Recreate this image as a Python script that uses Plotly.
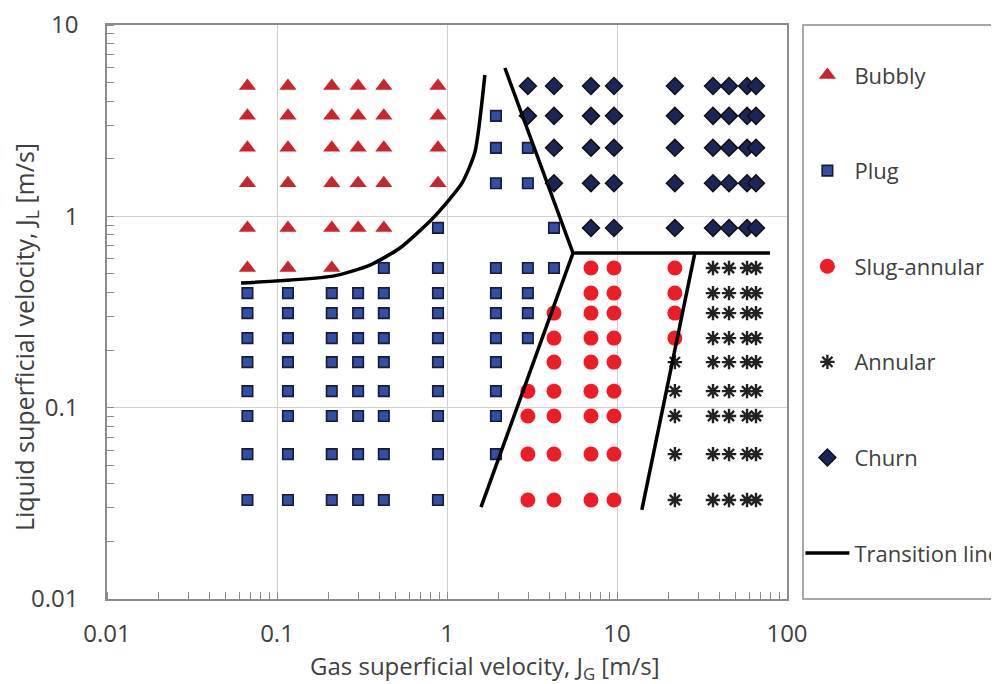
import plotly.graph_objects as go

# ---------------- data ----------------
bubbly_x = [0.067]*6 + [0.116]*6 + [0.21]*6 + [0.30]*5 + [0.425]*5 + [0.885]*4
bubbly_y = ([4.8, 3.35, 2.28, 1.49, 0.87, 0.537]*3
            + [4.8, 3.35, 2.28, 1.49, 0.87]*2
            + [4.8, 3.35, 2.28, 1.49])

plug_x = ([0.067]*8 + [0.116]*8 + [0.21]*8 + [0.30]*8 + [0.425]*9 + [0.885]*10
          + [1.94]*11 + [2.99]*6 + [4.26]*2)
plug_y = ([0.397, 0.312, 0.231, 0.173, 0.122, 0.0904, 0.0572, 0.0329]*4
          + [0.537, 0.397, 0.312, 0.231, 0.173, 0.122, 0.0904, 0.0572, 0.0329]
          + [0.87, 0.537, 0.397, 0.312, 0.231, 0.173, 0.122, 0.0904, 0.0572, 0.0329]
          + [3.35, 2.28, 1.49, 0.537, 0.397, 0.312, 0.231, 0.173, 0.122, 0.0904, 0.0572]
          + [2.28, 1.49, 0.537, 0.397, 0.312, 0.231]
          + [0.87, 0.537])

slug_x = [2.99]*4 + [4.26]*7 + [7.03]*9 + [9.6]*9 + [21.9]*4
slug_y = ([0.122, 0.0904, 0.0572, 0.0329]
          + [0.312, 0.231, 0.173, 0.122, 0.0904, 0.0572, 0.0329]
          + [0.537, 0.397, 0.312, 0.231, 0.173, 0.122, 0.0904, 0.0572, 0.0329]*2
          + [0.537, 0.397, 0.312, 0.231])

annular_x = [21.9]*5 + [36.7]*9 + [45.6]*9 + [58.2]*9 + [65.7]*9
annular_y = ([0.173, 0.122, 0.0904, 0.0572, 0.0329]
             + [0.537, 0.397, 0.312, 0.231, 0.173, 0.122, 0.0904, 0.0572, 0.0329]*4)

churn_x = [2.99]*2 + [4.26]*4 + [7.03]*5 + [9.6]*5 + [21.9]*5 + [36.7]*5 + [45.6]*5 + [58.2]*5 + [65.7]*5
churn_y = [4.8, 3.35] + [4.8, 3.35, 2.28, 1.49] + [4.8, 3.35, 2.28, 1.49, 0.87]*7

# transition lines
trans_curve_x = [0.0614, 0.213, 0.352, 0.529, 0.828, 1.225, 1.46, 1.67]
trans_curve_y = [0.448, 0.487, 0.556, 0.683, 0.98, 1.49, 2.17, 5.48]
trans_churn_x = [2.19, 5.51, 79.4]
trans_churn_y = [5.96, 0.643, 0.643]
trans_slug_x = [5.51, 1.585]
trans_slug_y = [0.643, 0.0302]
trans_ann_x = [28.7, 14.0]
trans_ann_y = [0.643, 0.0292]

x_tickvals = [0.01, 0.1, 1, 10, 100]
x_ticktext = ["0.01", "0.1", "1", "10", "100"]
y_tickvals = [0.01, 0.1, 1, 10]
y_ticktext = ["0.01", "0.1", "1", "10"]

# ---------------- figure ----------------
FONT = "Open Sans"
TXT = "#404040"
fig = go.Figure()

fig.add_trace(go.Scatter(x=bubbly_x, y=bubbly_y, mode="markers", name="Bubbly",
                         legendgroup="b",
                         marker=dict(symbol="triangle-up", size=15, color="#C9252C",
                                     line=dict(width=0))))
fig.add_trace(go.Scatter(x=plug_x, y=plug_y, mode="markers", name="Plug",
                         legendgroup="p",
                         marker=dict(symbol="square", size=10.5, color="#3050A8",
                                     line=dict(width=1.6, color="#1A1A33"))))
fig.add_trace(go.Scatter(x=slug_x, y=slug_y, mode="markers", name="Slug-annular",
                         legendgroup="s",
                         marker=dict(symbol="circle", size=15, color="#EE1C25",
                                     line=dict(width=0))))
fig.add_trace(go.Scatter(x=annular_x, y=annular_y, mode="markers", name="Annular",
                         legendgroup="a",
                         marker=dict(symbol="asterisk-open", size=12, color="#222222",
                                     line=dict(width=2.4, color="#222222"))))
fig.add_trace(go.Scatter(x=churn_x, y=churn_y, mode="markers", name="Churn",
                         legendgroup="c",
                         marker=dict(symbol="diamond", size=13, color="#1C2656",
                                     line=dict(width=1.5, color="#111111"))))

line_style = dict(color="black", width=3.5)
fig.add_trace(go.Scatter(x=trans_curve_x, y=trans_curve_y, mode="lines",
                         name="Transition line", legendgroup="t",
                         line=dict(shape="spline", smoothing=0.6, **line_style)))
for xs, ys in [(trans_churn_x, trans_churn_y), (trans_slug_x, trans_slug_y),
               (trans_ann_x, trans_ann_y)]:
    fig.add_trace(go.Scatter(x=xs, y=ys, mode="lines", legendgroup="t",
                             showlegend=False, line=line_style))

axis_common = dict(
    type="log", showgrid=True, gridcolor="#D0D0D0", gridwidth=1,
    showline=True, linecolor="#8C8C8C", linewidth=1.5, mirror=True,
    ticks="", zeroline=False, ticklabeloverflow="allow",
    tickfont=dict(family=FONT, size=24, color=TXT),
    minor=dict(ticks="inside", ticklen=7, tickcolor="#8C8C8C", tickwidth=1,
               showgrid=False, dtick="D1"),
)
fig.update_xaxes(range=[-2, 2], tickvals=x_tickvals, ticktext=x_ticktext,
                 ticklabelstandoff=12, **axis_common)
fig.update_yaxes(range=[-2, 1], tickvals=y_tickvals, ticktext=y_ticktext,
                 ticklabelstandoff=22, **axis_common)

fig.add_annotation(text="Gas superficial velocity, J<sub>G</sub> [m/s]",
                   xref="paper", yref="paper", x=0.556, y=-0.1185,
                   xanchor="center", yanchor="middle", showarrow=False,
                   font=dict(family=FONT, size=24, color=TXT))
fig.add_annotation(text="Liquid superficial velocity, J<sub>L</sub> [m/s]",
                   xref="paper", yref="paper", x=-0.12, y=0.457,
                   xanchor="center", yanchor="middle", showarrow=False, textangle=-90,
                   font=dict(family=FONT, size=25, color=TXT))

# legend frame (extends past the right edge like the reference)
fig.add_shape(type="rect", xref="paper", yref="paper", x0=1.0235, x1=1.6, y0=0, y1=1.0,
              line=dict(color="#8C8C8C", width=1.5), fillcolor="rgba(0,0,0,0)")

# the page body adds an 8 px margin, so the figure is 8 px smaller and offset
fig.update_layout(
    width=991, height=676,
    margin=dict(l=99, r=212, t=17, b=85, autoexpand=False),
    paper_bgcolor="white", plot_bgcolor="white",
    showlegend=True,
    legend=dict(x=1.0197, y=0.949, xanchor="left", yanchor="top",
                font=dict(family=FONT, size=22, color=TXT),
                tracegroupgap=64, bgcolor="rgba(0,0,0,0)", borderwidth=0,
                itemsizing="trace", itemwidth=44),
)

fig.write_html("out.html")
